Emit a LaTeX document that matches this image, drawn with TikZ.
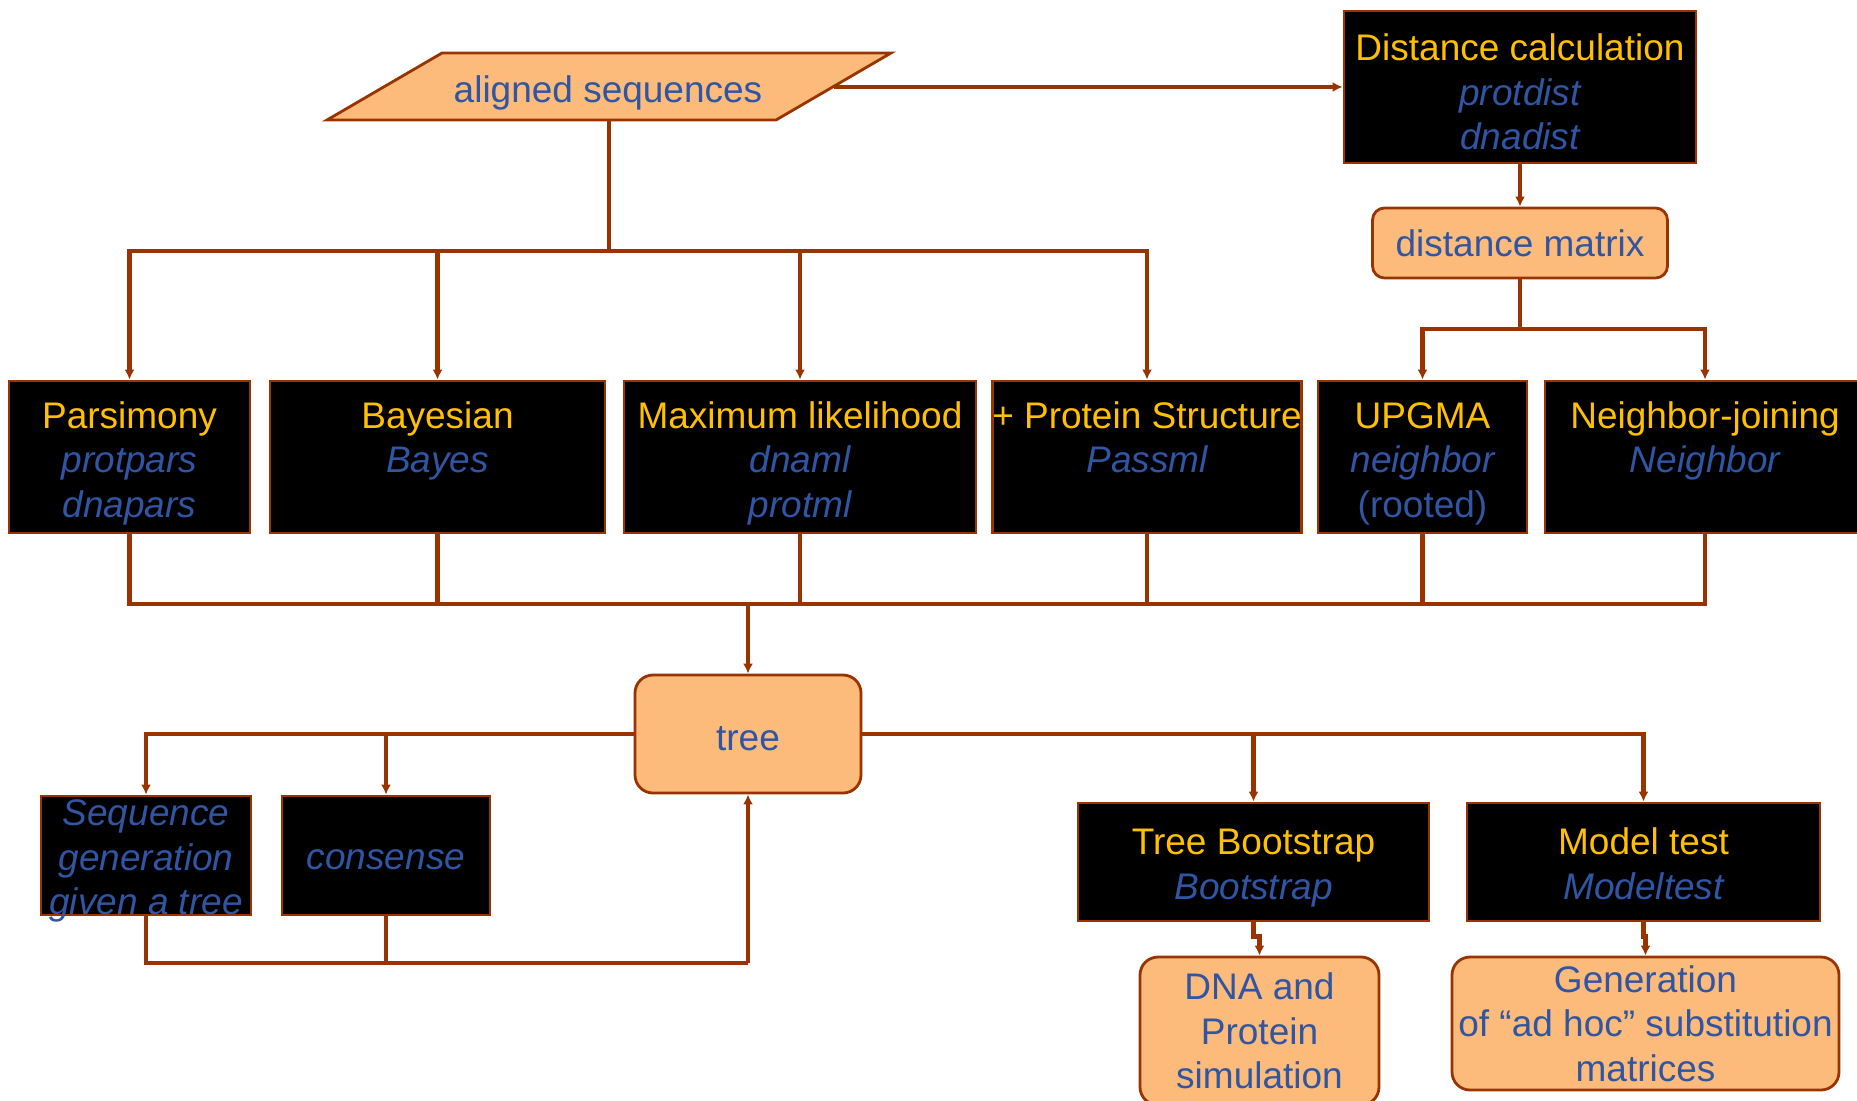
\documentclass[tikz,border=0pt]{standalone}
\usepackage{fontspec}
\setmainfont{Liberation Sans}
\usetikzlibrary{arrows.meta}
\definecolor{brn}{HTML}{993300}
\definecolor{peach}{HTML}{FCBB7A}
\definecolor{gold}{HTML}{FFC000}
\definecolor{navy}{HTML}{2F55A3}
\newcommand{\ttl}[1]{\textcolor{gold}{#1}}
\newcommand{\prg}[1]{\textcolor{navy}{\itshape #1}}
\newcommand{\bl}[1]{\textcolor{navy}{#1}}
\newcommand{\padtop}[1]{\rule{0pt}{#1}}
\begin{document}
\begin{tikzpicture}[x=0.5pt,y=-0.5pt,
 every node/.style={font=\fontsize{18.5pt}{22.25pt}\selectfont, align=center, inner sep=0pt},
 blk/.style={draw=brn, line width=1.4pt, fill=black},
 soft/.style={draw=brn, line width=1.4pt, fill=peach, rounded corners=9pt},
 conn/.style={draw=brn, line width=2.2pt},
 arr/.style={conn, -{Latex[length=5pt,width=5pt]}},
]
\useasboundingbox (0,0) rectangle (1857,1100);
\clip (0,0) rectangle (1857,1100);
\fill[white] (0,0) rectangle (1857,1100);

% aligned sequences (parallelogram)
\path[fill=peach, draw=brn, line width=1.4pt] (442,53) -- (891,53) -- (776,120) -- (327,120) -- cycle;
\node (aligned) at (608,93) {\bl{aligned sequences}};
\coordinate (alR) at (834,87);
\coordinate (alB) at (609,120);
\coordinate (split) at (609,251);

% distance branch
\node[blk, minimum width=176pt, minimum height=75pt] (dist) at (1520,87)
  {\padtop{24.8pt}\ttl{Distance calculation}\\\prg{protdist}\\\prg{dnadist}\strut};
\node[soft, rounded corners=6pt, minimum width=147.5pt, minimum height=35pt] (dmat) at (1520,243)
  {\bl{distance matrix}};
\coordinate (dsplit) at (1520,329);

% method row
\node[blk, minimum width=120.5pt, minimum height=76pt] (pars) at (129.5,457)
  {\padtop{22.6pt}\ttl{Parsimony}\\\prg{protpars}\\\prg{dnapars}\strut};
\node[blk, minimum width=167.5pt, minimum height=76pt] (bayes) at (437.5,457)
  {\padtop{22.6pt}\ttl{Bayesian}\\\prg{Bayes}\\\strut};
\node[blk, minimum width=176pt, minimum height=76pt] (ml) at (800,457)
  {\padtop{22.6pt}\ttl{Maximum likelihood}\\\prg{dnaml}\\\prg{protml}\strut};
\node[blk, minimum width=152pt, minimum height=76pt] (prot) at (1147,457)
  {\padtop{22.6pt}\ttl{+ Protein Structure}\\\prg{Passml}\\\strut};
\node[blk, minimum width=104.5pt, minimum height=76pt] (upgma) at (1422.5,457)
  {\padtop{22.6pt}\ttl{UPGMA}\\\prg{neighbor}\\\bl{(rooted)}\strut};
\node[blk, minimum width=160pt, minimum height=76pt] (nj) at (1705,457)
  {\padtop{22.6pt}\ttl{Neighbor-joining}\\\prg{Neighbor}\\\strut};

\coordinate (join) at (748,604);

% tree and below
\node[soft, minimum width=113pt, minimum height=59pt] (tree) at (748,734)
  {\padtop{23.1pt}\strut\bl{tree}};
\node[blk, inner ysep=-6.6pt, minimum width=105pt, minimum height=59.5pt] (seq) at (146,855.5)
  {\padtop{21.5pt}\prg{Sequence}\\\prg{generation}\\\prg{given a tree}\strut};
\node[blk, minimum width=104pt, minimum height=59.5pt] (cons) at (386,855.5)
  {\padtop{21.1pt}\strut\prg{consense}};
\coordinate (ret) at (748,963);

\node[blk, minimum width=175.5pt, minimum height=59pt] (boot) at (1253.5,862)
  {\padtop{21.6pt}\ttl{Tree Bootstrap}\\\prg{Bootstrap}\strut};
\node[blk, minimum width=176.5pt, minimum height=59pt] (model) at (1643.5,862)
  {\padtop{21.6pt}\ttl{Model test}\\\prg{Modeltest}\strut};
\node[soft, minimum width=119.5pt, minimum height=74pt] (dna) at (1259.5,1031)
  {\bl{DNA and}\\\bl{Protein}\\\bl{simulation}};
\node[soft, minimum width=193.5pt, minimum height=66.5pt] (gen) at (1645.5,1023.5)
  {\bl{Generation}\\\bl{of “ad hoc” substitution}\\\bl{matrices}};

% connectors
\draw[arr] (alR) -- (dist.west);
\draw[arr] (dist.south) -- (dmat.north);
\draw[conn] (dmat.south) -- (dsplit);
\draw[arr] (dsplit) -| (upgma.north);
\draw[arr] (dsplit) -| (nj.north);

\draw[conn] (alB) -- (split);
\draw[arr] (split) -| (pars.north);
\draw[arr] (split) -| (bayes.north);
\draw[arr] (split) -| (ml.north);
\draw[arr] (split) -| (prot.north);

\foreach \n in {pars,bayes,ml,prot,upgma,nj} \draw[conn] (\n.south) |- (join);
\draw[arr] (join) -- (tree.north);

\draw[arr] (tree.west) -| (seq.north);
\draw[arr] (tree.west) -| (cons.north);
\draw[arr] (tree.east) -| (boot.north);
\draw[arr] (tree.east) -| (model.north);

\draw[conn] (seq.south) |- (ret);
\draw[conn] (cons.south) |- (ret);
\draw[arr] (ret) -- (tree.south);

\draw[arr] (boot.south) -- ++(0,14) -| (dna.north);
\draw[arr] (model.south) -- ++(0,14) -| (gen.north);
\end{tikzpicture}
\end{document}
